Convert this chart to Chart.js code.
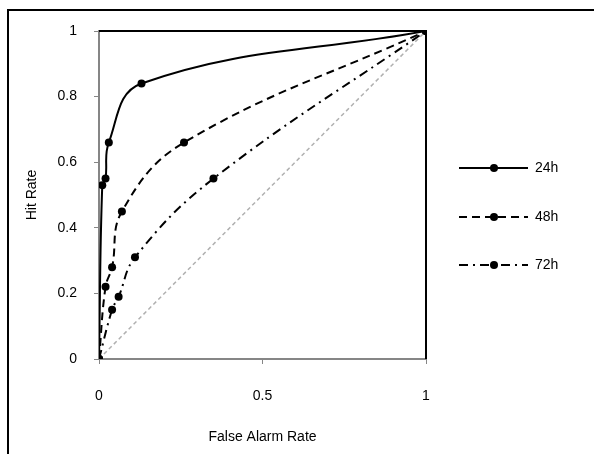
<!DOCTYPE html>
<html>
<head>
<meta charset="utf-8">
<script src="https://cdn.jsdelivr.net/npm/chart.js@4"></script>
<style>
  html, body { margin: 0; padding: 0; background: #fff; }
  #wrap { width: 594px; height: 454px; }
</style>
</head>
<body>
<div id="wrap"><canvas id="myChart" width="594" height="454"></canvas></div>
<script>
// ROC curves, values
const seriesNames = ['24h', '48h', '72h'];
const far24 = [0, 0.01, 0.02, 0.03, 0.13, 1];
const hit24 = [0, 0.53, 0.55, 0.66, 0.84, 1];
const far48 = [0, 0.02, 0.04, 0.07, 0.26, 1];
const hit48 = [0, 0.22, 0.28, 0.45, 0.66, 1];
const far72 = [0, 0.04, 0.06, 0.11, 0.35, 1];
const hit72 = [0, 0.15, 0.19, 0.31, 0.55, 1];
const diagX = [0, 1];
const diagY = [0, 1];
const xTicks = [0, 0.5, 1];
const yTicks = [0, 0.2, 0.4, 0.6, 0.8, 1];

const FONT = 'Liberation Sans';
const FSIZE = 14;
const dashes = [[], [8, 5], [9, 5, 2, 5]];

function pts(xs, ys) {
    return xs.map((x, i) => ({ x: x, y: ys[i] }));
}

function curve(label, xs, ys, dash) {
    return {
        label: label,
        data: pts(xs, ys),
        showLine: true,
        borderColor: '#000',
        backgroundColor: '#000',
        borderWidth: 2,
        borderDash: dash,
        pointRadius: 4,
        pointBackgroundColor: '#000',
        pointBorderWidth: 0,
        tension: 0.4
    };
}

const data = {
    datasets: [
        curve(seriesNames[0], far24, hit24, dashes[0]),
        curve(seriesNames[1], far48, hit48, dashes[1]),
        curve(seriesNames[2], far72, hit72, dashes[2]),
        {
            label: 'chance',
            data: pts(diagX, diagY),
            showLine: true,
            borderColor: '#b0b0b0',
            borderWidth: 1.5,
            borderDash: [4, 3],
            pointRadius: 0
        }
    ]
};

// frame, plot border and hand drawn legend
const extras = {
    id: 'extras',
    afterDraw(chart) {
        const ctx = chart.ctx;
        const a = chart.chartArea;
        ctx.save();
        ctx.strokeStyle = '#000';
        ctx.lineWidth = 2;
        ctx.strokeRect(8, 10, 600, 460);

        ctx.beginPath();
        ctx.moveTo(a.left, a.top);
        ctx.lineTo(a.right, a.top);
        ctx.lineTo(a.right, a.bottom);
        ctx.stroke();

        const legendY = [168, 217, 265];
        ctx.font = FSIZE + 'px "' + FONT + '"';
        ctx.textBaseline = 'middle';
        ctx.fillStyle = '#000';
        seriesNames.forEach((name, i) => {
            ctx.setLineDash(dashes[i]);
            ctx.lineWidth = 2;
            ctx.beginPath();
            ctx.moveTo(459, legendY[i]);
            ctx.lineTo(528, legendY[i]);
            ctx.stroke();
            ctx.setLineDash([]);
            ctx.beginPath();
            ctx.arc(494, legendY[i], 4, 0, Math.PI * 2);
            ctx.fill();
            ctx.fillText(name, 535, legendY[i]);
        });
        ctx.restore();
    }
};

const config = {
    type: 'scatter',
    data: data,
    options: {
        responsive: false,
        animation: false,
        layout: { padding: { left: 10, top: 31, right: 168, bottom: 0 } },
        plugins: {
            legend: { display: false },
            tooltip: { enabled: false }
        },
        scales: {
            x: {
                type: 'linear',
                min: 0,
                max: 1,
                afterFit(scale) { scale.height = 95; },
                afterBuildTicks(scale) { scale.ticks = xTicks.map(v => ({ value: v })); },
                ticks: {
                    color: '#000',
                    padding: 24,
                    font: { family: FONT, size: FSIZE },
                    callback: v => String(v)
                },
                grid: { drawOnChartArea: false, tickLength: 5, color: '#868686', lineWidth: 1 },
                border: { color: '#868686', width: 2 },
                title: {
                    display: true,
                    text: 'False Alarm Rate',
                    color: '#000',
                    padding: { bottom: 8 },
                    font: { family: FONT, size: FSIZE }
                }
            },
            y: {
                type: 'linear',
                min: 0,
                max: 1,
                afterFit(scale) { scale.width = 89; },
                afterBuildTicks(scale) { scale.ticks = yTicks.map(v => ({ value: v })); },
                ticks: {
                    color: '#000',
                    padding: 17,
                    font: { family: FONT, size: FSIZE },
                    callback: v => String(v)
                },
                grid: { drawOnChartArea: false, tickLength: 5, color: '#868686', lineWidth: 1 },
                border: { color: '#868686', width: 2 },
                title: {
                    display: true,
                    text: 'Hit Rate',
                    color: '#000',
                    padding: { top: 14 },
                    font: { family: FONT, size: FSIZE }
                }
            }
        }
    },
    plugins: [extras]
};

const chart = new Chart(document.getElementById('myChart'), config);
</script>
</body>
</html>
